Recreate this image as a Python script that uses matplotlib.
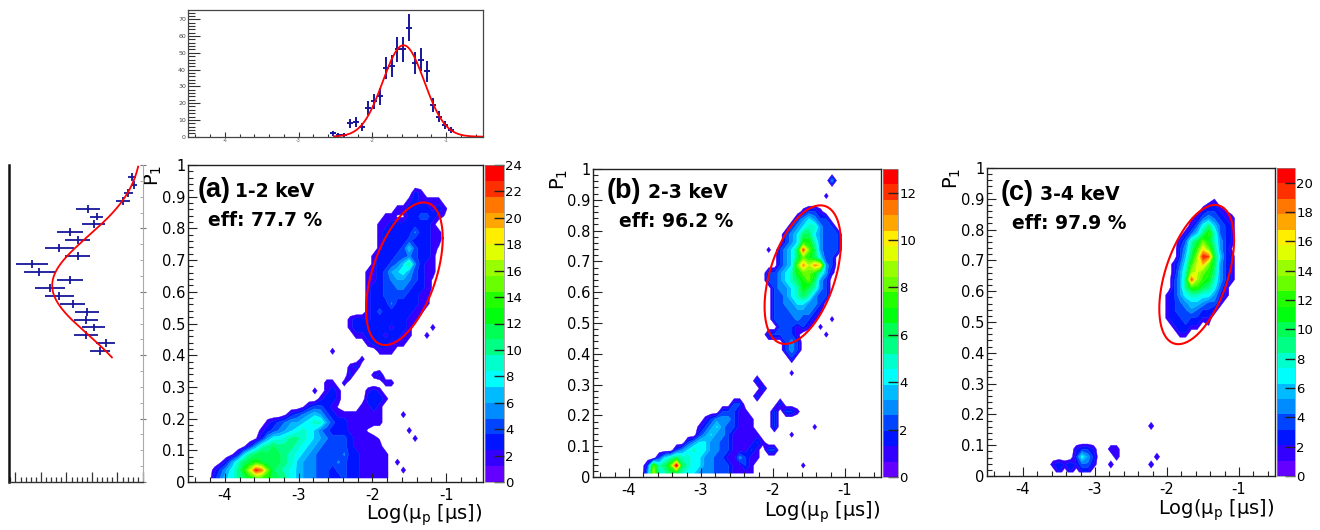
import numpy as np
import matplotlib
matplotlib.use("Agg")
import matplotlib.pyplot as plt
from matplotlib.colors import hsv_to_rgb, ListedColormap, BoundaryNorm
from matplotlib.cm import ScalarMappable
from matplotlib.ticker import MultipleLocator, FuncFormatter

plt.rcParams['font.family'] = ['DejaVu Sans']
plt.rcParams['axes.unicode_minus'] = False
plt.rcParams['mathtext.default'] = 'regular'

# ------------------------------------------------------------------ data
# 2D histograms: 50 bins in Log(mu_p) over [-4.5,-0.5], 40 bins in P1 over [0,1]
# each entry: (P1 row index, first Log(mu_p) column index, counts in consecutive columns)
hist_a = [
    (36, 38, [3, 2]),
    (35, 37, [2, 3, 2, 2, 2, 2]),
    (34, 35, [2, 2, 3, 3, 3, 3, 2, 3, 2]),
    (33, 33, [2, 2, 1, 1, 3, 3, 4, 4, 3, 2, 1]),
    (32, 32, [2, 2, 3, 3, 3, 3, 3, 3, 3, 2]),
    (31, 32, [2, 3, 3, 3, 3, 3, 5, 3, 3, 2, 2]),
    (30, 32, [2, 3, 3, 3, 3, 4, 3, 3, 3, 2, 2]),
    (29, 32, [2, 3, 3, 3, 4, 7, 4, 3, 3, 2, 1]),
    (28, 31, [2, 3, 3, 3, 4, 4, 5, 4, 3, 3, 2]),
    (27, 31, [2, 3, 3, 4, 5, 7, 10, 5, 3, 2, 2]),
    (26, 30, [2, 2, 3, 4, 6, 7, 8, 6, 4, 3, 2, 2]),
    (25, 30, [2, 2, 3, 4, 5, 6, 6, 5, 4, 3, 2, 1]),
    (24, 30, [2, 3, 3, 4, 4, 5, 5, 4, 3, 3, 2, 1]),
    (23, 30, [2, 3, 3, 4, 4, 4, 4, 3, 3, 2, 2]),
    (22, 30, [2, 3, 3, 3, 5, 3, 3, 3, 3, 2, 2]),
    (21, 30, [2, 3, 4, 3, 3, 3, 3, 3, 2, 2]),
    (20, 27, [2, 3, 3, 2, 3, 3, 3, 3, 3, 3, 2, 2]),
    (19, 27, [2, 3, 3, 3, 3, 3, 3, 2, 3, 3, 2, 0, 0, 0, 2]),
    (18, 28, [2, 2, 3, 3, 3, 2, 3, 3, 2, 2, 0, 0, 2]),
    (17, 30, [2, 3, 3, 3, 2, 2, 2]),
    (16, 24, [2, 0, 0, 0, 0, 0, 0, 0, 2, 2, 2]),
    (15, 29, [2]),
    (14, 27, [2, 3]),
    (13, 27, [3, 0, 0, 0, 2, 3]),
    (12, 23, [2, 2, 0, 2, 0, 0, 0, 0, 0, 0, 2, 2]),
    (11, 21, [2, 0, 2, 3, 2, 0, 0, 0, 0, 2, 3, 2]),
    (10, 22, [2, 3, 3, 2, 0, 0, 0, 0, 3, 3, 3, 2]),
    (9, 19, [1, 3, 4, 4, 3, 2, 1, 0, 0, 0, 2, 2, 3, 2]),
    (8, 16, [1, 3, 4, 5, 6, 7, 6, 4, 3, 2, 2, 2, 2, 2, 2, 2, 2, 0, 0, 0, 2]),
    (7, 13, [2, 3, 4, 5, 6, 6, 7, 8, 9, 9, 6, 4, 3, 3, 2, 2, 2, 2, 2, 2]),
    (6, 12, [2, 3, 4, 5, 6, 7, 8, 9, 8, 7, 5, 4, 3, 3, 3, 2, 2, 2, 1, 0, 0, 0, 0, 0, 0, 2]),
    (5, 11, [1, 3, 6, 8, 8, 9, 10, 10, 9, 8, 7, 6, 5, 4, 4, 4, 3, 2, 2, 2, 2, 1, 0, 0, 0, 0, 0, 2]),
    (4, 9, [1, 3, 6, 9, 10, 11, 10, 10, 10, 9, 8, 7, 6, 5, 4, 4, 4, 4, 3, 2, 2, 2, 2, 2]),
    (3, 7, [1, 3, 7, 10, 11, 12, 11, 11, 11, 10, 9, 8, 7, 6, 5, 4, 4, 4, 4, 5, 3, 3, 2, 2, 2, 2, 2]),
    (2, 5, [1, 3, 6, 9, 11, 12, 13, 12, 11, 11, 11, 10, 9, 7, 6, 5, 5, 4, 4, 4, 5, 4, 3, 3, 2, 2, 2, 2, 2, 0, 2]),
    (1, 4, [2, 4, 6, 8, 10, 13, 17, 23, 21, 15, 11, 10, 9, 8, 7, 6, 5, 5, 4, 4, 3, 4, 4, 3, 3, 2, 2, 2, 2, 2, 0, 0, 2]),
    (0, 4, [3, 5, 7, 8, 10, 11, 13, 14, 14, 13, 11, 11, 10, 8, 7, 6, 6, 5, 4, 4, 3, 3, 4, 3, 3, 2, 2, 2, 2, 2]),
]

hist_b = [
    (38, 41, [3]),
    (36, 40, [1]),
    (34, 36, [1, 2, 2, 1]),
    (33, 35, [2, 3, 4, 3, 2, 2]),
    (32, 34, [2, 3, 4, 5, 5, 3, 2, 2]),
    (31, 33, [2, 3, 4, 6, 6, 4, 3, 2, 2, 2]),
    (30, 33, [2, 3, 4, 7, 7, 5, 3, 2, 2, 2]),
    (29, 30, [1, 0, 2, 3, 4, 6, 12, 8, 6, 3, 2, 2, 2]),
    (28, 32, [2, 3, 4, 6, 8, 7, 6, 4, 2, 2]),
    (27, 32, [2, 3, 4, 8, 11, 9, 11, 10, 3, 2]),
    (26, 30, [2, 2, 3, 4, 5, 7, 8, 8, 7, 5, 3, 1]),
    (25, 30, [2, 2, 3, 4, 5, 6, 7, 8, 6, 3, 2]),
    (24, 31, [2, 3, 3, 4, 5, 7, 6, 5, 3, 2]),
    (23, 31, [2, 2, 3, 4, 5, 6, 5, 3, 2, 2]),
    (22, 31, [2, 2, 3, 3, 4, 4, 3, 3, 2]),
    (21, 31, [2, 2, 2, 3, 3, 3, 3, 2, 1]),
    (20, 31, [2, 2, 2, 2, 3, 2, 2, 1, 0, 0, 1]),
    (19, 32, [2, 2, 2, 1, 2, 1, 0, 1]),
    (18, 30, [2, 2, 2, 2, 2, 1, 0, 0, 0, 0, 1]),
    (17, 33, [2, 3, 2]),
    (16, 33, [2, 3, 2]),
    (15, 34, [2]),
    (13, 34, [1]),
    (12, 28, [2]),
    (11, 29, [2]),
    (10, 28, [2]),
    (9, 24, [2, 2, 0, 0, 0, 0, 0, 0, 2]),
    (8, 22, [2, 2, 2, 1, 1, 0, 0, 0, 0, 2, 0, 2, 2, 1]),
    (7, 19, [1, 2, 3, 3, 3, 2, 1, 1, 1, 0, 0, 0, 2]),
    (6, 18, [1, 2, 3, 4, 3, 2, 2, 1, 1, 1, 0, 0, 0, 2, 0, 0, 0, 0, 0, 0, 1]),
    (5, 18, [2, 3, 4, 3, 3, 2, 1, 1, 1, 1, 1, 0, 0, 0, 0, 0, 1]),
    (4, 16, [2, 3, 4, 4, 3, 3, 2, 2, 1, 1, 1, 1, 2, 1]),
    (3, 14, [2, 3, 4, 5, 4, 4, 3, 3, 2, 2, 1, 1, 1, 2, 1, 0, 2, 2]),
    (2, 11, [2, 4, 5, 6, 5, 5, 4, 4, 3, 3, 2, 2, 1, 1, 3, 2, 1, 1]),
    (1, 9, [2, 8, 5, 6, 8, 13, 6, 5, 4, 4, 3, 3, 2, 2, 2, 1, 1, 2, 1, 0, 0, 0, 0, 0, 0, 0, 0, 1]),
    (0, 9, [3, 9, 5, 5, 6, 6, 5, 4, 4, 3, 3, 3, 2, 2, 2, 1, 1, 1, 1]),
]

hist_c = [
    (35, 38, [1, 2]),
    (34, 37, [2, 3, 3, 2, 1]),
    (33, 35, [1, 2, 4, 5, 4, 3, 2, 2]),
    (32, 35, [2, 4, 7, 9, 6, 4, 3, 2]),
    (31, 34, [2, 4, 6, 9, 12, 8, 4, 3, 2]),
    (30, 33, [2, 4, 8, 10, 13, 11, 8, 5, 3, 2]),
    (29, 33, [3, 5, 9, 12, 16, 13, 9, 5, 3, 1]),
    (28, 33, [3, 6, 10, 14, 20, 19, 10, 6, 3, 2]),
    (27, 32, [2, 4, 7, 12, 15, 17, 13, 10, 5, 3, 2]),
    (26, 32, [2, 5, 8, 14, 15, 13, 12, 9, 5, 3, 2]),
    (25, 32, [3, 5, 9, 19, 14, 12, 11, 8, 5, 3, 2]),
    (24, 32, [3, 5, 9, 12, 12, 10, 9, 7, 4, 2]),
    (23, 31, [2, 3, 5, 7, 8, 8, 7, 7, 5, 3, 2]),
    (22, 31, [2, 3, 4, 5, 6, 6, 5, 4, 4, 2]),
    (21, 31, [2, 3, 4, 4, 5, 4, 3, 3, 2]),
    (20, 31, [2, 3, 3, 4, 3, 3, 2, 2]),
    (19, 32, [2, 3, 3, 2, 2, 0, 1]),
    (18, 33, [2, 2]),
    (6, 28, [2]),
    (3, 15, [2, 3, 3, 2, 0, 0, 2, 2]),
    (2, 15, [3, 7, 5, 3, 0, 0, 0, 2, 0, 0, 0, 0, 0, 0, 2]),
    (1, 11, [2, 3, 2, 3, 2, 4, 4, 2, 0, 0, 2, 0, 0, 0, 0, 0, 0, 2]),
    (0, 12, [2, 0, 2, 0, 2, 2]),
]

z_max = [24, 13, 21]
panel_tags = ['(a)', '(b)', '(c)']
energy_labels = ['1-2 keV', '2-3 keV', '3-4 keV']
eff_labels = ['eff: 77.7 %', 'eff: 96.2 %', 'eff: 97.9 %']

# selection ellipse: centre, half extents along each axis, phase of the tilt
ellipse_cx = [-1.566, -1.587, -1.588]
ellipse_cy = [0.657, 0.657, 0.654]
ellipse_rx = [0.520, 0.530, 0.519]
ellipse_ry = [0.225, 0.225, 0.226]
ellipse_phase_deg = [60.0, 62.5, 60.6]

# projection of the upper cluster of (a) on Log(mu_p)
proj_x_centers = [-2.54, -2.46, -2.38, -2.30, -2.22, -2.14, -2.06, -1.98, -1.90, -1.82, -1.74,
                  -1.66, -1.58, -1.50, -1.42, -1.34, -1.26, -1.18, -1.10, -1.02, -0.94]
proj_x_counts = [2, 1, 1, 8, 9, 6, 17, 21, 24, 41, 42, 52, 52, 65, 44, 46, 39, 19, 12, 7, 4]
fit_x_amp, fit_x_mean, fit_x_sigma = 54.5, -1.577, 0.28
fit_x_range = (-2.52, -0.5)

# projection of the upper cluster of (a) on P1 (rotated)
proj_p_centers = [0.4125, 0.4375, 0.4625, 0.4875, 0.5125, 0.5375, 0.5625, 0.5875, 0.6125, 0.6375,
                  0.6625, 0.6875, 0.7125, 0.7375, 0.7625, 0.7875, 0.8125, 0.8375, 0.8625, 0.8875,
                  0.9125, 0.9375, 0.9625]
proj_p_counts = [8.4, 7.3, 11.2, 9.7, 11.2, 10.9, 13.8, 16.4, 18.2, 14.3, 20.3, 21.8, 12.8, 16.4,
                 12.8, 14.3, 9.7, 9.1, 10.8, 3.9, 2.9, 1.8, 2.1]
proj_p_errors = [2.0, 1.9, 2.35, 2.2, 2.35, 2.35, 2.5, 2.9, 2.95, 2.6, 3.1, 3.1, 2.45, 2.9,
                 2.5, 2.6, 2.2, 1.25, 2.35, 1.3, 0.9, 0.6, 0.8]
fit_p_amp, fit_p_mean, fit_p_sigma = 17.8, 0.62, 0.155
fit_p_range = (0.393, 0.995)

# ------------------------------------------------------------------ style / layout
X_LO, X_HI, NX = -4.5, -0.5, 50
Y_LO, Y_HI, NY = 0.0, 1.0, 40
xc = X_LO + (np.arange(NX) + 0.5) * (X_HI - X_LO) / NX
yc = Y_LO + (np.arange(NY) + 0.5) * (Y_HI - Y_LO) / NY

def to_grid(segs):
    z = np.zeros((NY, NX))
    for j, k0, vals in segs:
        z[j, k0:k0 + len(vals)] = vals
    return z

def root_band_colors(n_bands=20, n_pal=50):
    cols = []
    for b in range(n_bands):
        idx = int((b + 0.99) * n_pal / n_bands)
        hue = 280.0 - (idx + 1) * 280.0 / n_pal
        cols.append(hsv_to_rgb((hue / 360.0, 1.0, 1.0)))
    return cols

BANDS = root_band_colors()
BLUE = '#16169a'
W, H = 1320, 530
fig = plt.figure(figsize=(W / 100, H / 100), dpi=100)

def px_axes(l, t, r, b):
    return fig.add_axes([l / W, 1 - b / H, (r - l) / W, (b - t) / H])

fmt_g = FuncFormatter(lambda v, p: '%g' % round(v, 6))

main_boxes = [(188, 165, 483, 482), (593, 169, 881, 477), (987, 168, 1275, 476)]
cbar_boxes = [(485, 165, 504, 482), (883, 169, 898, 477), (1277, 168, 1295, 476)]
tag_pos = [(0.034, 0.16, 0.899, 0.068, 0.808),
           (0.048, 0.192, 0.906, 0.090, 0.812),
           (0.049, 0.184, 0.896, 0.086, 0.802)]
xlabel_y = [-0.12, -0.13, -0.127]
ylabel_x = [-0.119, -0.118, -0.122]

for i, segs in enumerate([hist_a, hist_b, hist_c]):
    ax = px_axes(*main_boxes[i])
    z = to_grid(segs)
    levels = np.linspace(0, z_max[i], 21)
    cs = ax.contourf(xc, yc, z, levels=levels[1:], colors=BANDS[1:], antialiased=True)
    cs.set_edgecolor('face')
    cs.set_linewidth(0.3)
    t = np.linspace(0, 2 * np.pi, 400)
    ph = np.deg2rad(ellipse_phase_deg[i])
    ax.plot(ellipse_cx[i] + ellipse_rx[i] * np.cos(t),
            ellipse_cy[i] + ellipse_ry[i] * np.cos(t - ph), color='#ff0000', lw=1.5)
    ax.set_xlim(X_LO, X_HI)
    ax.set_ylim(Y_LO, Y_HI)
    ax.xaxis.set_major_locator(MultipleLocator(1))
    ax.xaxis.set_minor_locator(MultipleLocator(0.2))
    ax.yaxis.set_major_locator(MultipleLocator(0.1))
    ax.yaxis.set_minor_locator(MultipleLocator(0.02))
    ax.xaxis.set_major_formatter(fmt_g)
    ax.yaxis.set_major_formatter(fmt_g)
    ax.tick_params(which='major', direction='in', length=6.5, width=0.8, labelsize=10.5,
                   top=False, right=False, color='#222222')
    ax.tick_params(which='minor', direction='in', length=3.3, width=0.8,
                   top=False, right=False, color='#222222')
    ax.tick_params(axis='y', pad=2)
    ax.tick_params(axis='x', pad=4)
    for s in ax.spines.values():
        s.set_linewidth(1.0)
        s.set_color('#222222')
    tx, ex, by, fx, fy = tag_pos[i]
    ax.text(tx, by, panel_tags[i], transform=ax.transAxes, fontsize=19.5, fontweight='bold',
            family=['Liberation Sans', 'DejaVu Sans'], va='baseline', ha='left')
    ax.text(ex, by, energy_labels[i], transform=ax.transAxes, fontsize=13.5, fontweight='bold',
            va='baseline', ha='left')
    ax.text(fx, fy, eff_labels[i], transform=ax.transAxes, fontsize=13.5, fontweight='bold',
            va='baseline', ha='left')
    ax.text(1.0, xlabel_y[i], 'Log(μ$_{p}$ [μs])', transform=ax.transAxes, fontsize=14,
            ha='right', va='baseline')
    ax.text(ylabel_x[i], 1.0, 'P$_{1}$', transform=ax.transAxes, fontsize=14,
            rotation=90, ha='center', va='top')

    cax = px_axes(*cbar_boxes[i])
    sm = ScalarMappable(norm=BoundaryNorm(levels, 20), cmap=ListedColormap(BANDS))
    cb = fig.colorbar(sm, cax=cax, ticks=np.arange(0, z_max[i] + 0.01, 2))
    cb.outline.set_linewidth(0.5)
    cb.outline.set_edgecolor('#888888')
    cax.tick_params(direction='in', length=7.5, width=1.0, labelsize=9.5, pad=1,
                    color='#222222')
    cax.yaxis.set_major_formatter(fmt_g)
    cax.minorticks_off()

# top projection
axT = px_axes(188, 9.5, 483, 136.7)
axT.errorbar(proj_x_centers, proj_x_counts, xerr=0.04, yerr=np.sqrt(proj_x_counts),
             fmt='none', ecolor=BLUE, elinewidth=1.4)
xf = np.linspace(fit_x_range[0], fit_x_range[1], 300)
axT.plot(xf, fit_x_amp * np.exp(-0.5 * ((xf - fit_x_mean) / fit_x_sigma) ** 2), color='#ff0000', lw=1.3)
axT.set_xlim(X_LO, X_HI)
axT.set_ylim(0, 75.8)
axT.xaxis.set_major_locator(MultipleLocator(1))
axT.xaxis.set_minor_locator(MultipleLocator(0.2))
axT.yaxis.set_major_locator(MultipleLocator(10))
axT.yaxis.set_minor_locator(MultipleLocator(2))
axT.xaxis.set_major_formatter(fmt_g)
axT.tick_params(axis='y', which='major', direction='in', length=8.4, width=0.8, labelsize=4.5,
                labelcolor='#444444', pad=1.5, color='#333333')
axT.tick_params(axis='y', which='minor', direction='in', length=4.8, width=0.8, color='#333333')
axT.tick_params(axis='x', which='major', direction='in', length=3.6, width=0.8, labelsize=3.5,
                labelcolor='#666666', pad=1, color='#333333')
axT.tick_params(axis='x', which='minor', direction='in', length=2.2, width=0.8, color='#333333')
for s in axT.spines.values():
    s.set_linewidth(0.9)
    s.set_color('#444444')

# left (rotated) projection
axL = px_axes(9, 165, 143, 482)
axL.errorbar(proj_p_counts, proj_p_centers, xerr=proj_p_errors, yerr=0.0125,
             fmt='none', ecolor=BLUE, elinewidth=1.3)
pf = np.linspace(fit_p_range[0], fit_p_range[1], 300)
axL.plot(fit_p_amp * np.exp(-0.5 * ((pf - fit_p_mean) / fit_p_sigma) ** 2), pf, color='#ff0000', lw=1.3)
axL.set_xlim(26.27, 0)
axL.set_ylim(Y_LO, Y_HI)
axL.xaxis.set_major_locator(MultipleLocator(5))
axL.xaxis.set_minor_locator(MultipleLocator(1))
axL.yaxis.set_major_locator(MultipleLocator(0.2))
axL.yaxis.set_minor_locator(MultipleLocator(0.05))
axL.tick_params(axis='x', which='major', direction='in', length=7, width=0.9, labelbottom=False,
                color='#333333')
axL.tick_params(axis='x', which='minor', direction='in', length=3.5, width=0.9, color='#333333')
axL.tick_params(axis='y', which='major', left=False, right=True, labelleft=False, direction='inout',
                length=4, width=0.8, color='#777777')
axL.tick_params(axis='y', which='minor', left=False, right=True, direction='in', length=2.5,
                width=0.6, color='#999999')
axL.spines['top'].set_visible(False)
axL.spines['left'].set_linewidth(1.8)
axL.spines['left'].set_color('#111111')
axL.spines['bottom'].set_linewidth(1.0)
axL.spines['bottom'].set_color('#333333')
axL.spines['right'].set_linewidth(0.8)
axL.spines['right'].set_color('#aaaaaa')

fig.savefig('out.png', dpi=100)
